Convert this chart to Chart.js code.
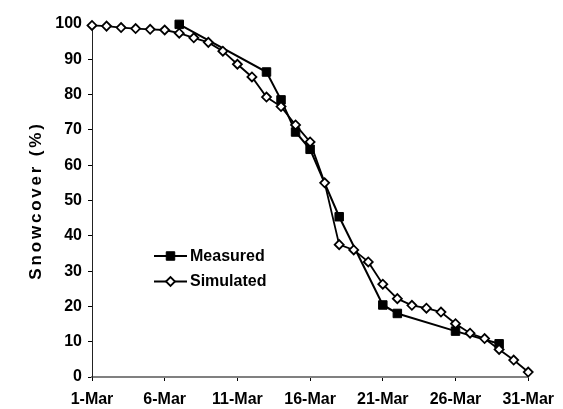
<!DOCTYPE html>
<html>
<head>
    <title>Snowcover</title>
    <style>
        html, body { margin: 0; padding: 0; background: #fff; }
        .chart-container { width: 563px; height: 409px; position: relative; }
    </style>
    <script src="https://cdn.jsdelivr.net/npm/chart.js"></script>
</head>
<body>
    <div class="chart-container">
        <canvas id="chart1"></canvas>
    </div>
    <script>
        // day of March
        const simDays = [1, 2, 3, 4, 5, 6, 7, 8, 9, 10, 11, 12, 13, 14, 15, 16, 17, 18, 19, 20,
                         21, 22, 23, 24, 25, 26, 27, 28, 29, 30, 31];
        const simValues = [99.6, 99.4, 99.0, 98.7, 98.5, 98.3, 97.4, 96.1, 94.8, 92.3, 88.6, 85.0,
                           79.3, 76.6, 71.4, 66.6, 55.0, 37.5, 36.0, 32.6, 26.3, 22.2, 20.3, 19.5,
                           18.4, 15.1, 12.4, 10.9, 7.8, 4.8, 1.4];
        const measDays = [7, 13, 14, 15, 16, 18, 21, 22, 26, 29];
        const measValues = [99.9, 86.4, 78.5, 69.4, 64.5, 45.4, 20.4, 18.0, 13.0, 9.4];
        const xTicks = [1, 6, 11, 16, 21, 26, 31];
        const yTitle = 'Snowcover (%)';
        const legendLabels = ['Measured', 'Simulated'];

        const FONT = 'Liberation Sans, Arial, sans-serif';

        function toPoints(xs, ys) {
            return xs.map((x, i) => ({ x: x, y: ys[i] }));
        }

        const simStyle = {
            borderColor: '#000',
            borderWidth: 1.8,
            pointStyle: 'rectRot',
            pointRadius: 4.5,
            pointBackgroundColor: '#fff',
            pointBorderColor: '#000',
            pointBorderWidth: 1.8
        };
        const measStyle = {
            borderColor: '#000',
            borderWidth: 2,
            pointStyle: 'rect',
            pointRadius: 6,
            pointBackgroundColor: '#000',
            pointBorderColor: '#000',
            pointBorderWidth: 1
        };

        // y title with wide spacing + legend inside the plot
        const extras = {
            id: 'extras',
            afterDraw(chart) {
                const ctx = chart.ctx;
                const area = chart.chartArea;
                ctx.save();
                ctx.fillStyle = '#000';
                ctx.font = 'bold 17px ' + FONT;
                ctx.letterSpacing = '2.8px';
                ctx.textAlign = 'center';
                ctx.textBaseline = 'middle';
                ctx.translate(36, (area.top + area.bottom) / 2);
                ctx.rotate(-Math.PI / 2);
                ctx.fillText(yTitle, 0, 0);
                ctx.restore();

                const styles = [measStyle, simStyle];
                const lx = area.left + 62;
                const ly = area.top + 232;
                ctx.save();
                styles.forEach((st, i) => {
                    const y = ly + i * 25.5;
                    ctx.strokeStyle = '#000';
                    ctx.lineWidth = 2;
                    ctx.beginPath();
                    ctx.moveTo(lx, y);
                    ctx.lineTo(lx + 33, y);
                    ctx.stroke();
                    ctx.fillStyle = st.pointBackgroundColor;
                    ctx.strokeStyle = st.pointBorderColor;
                    ctx.lineWidth = st.pointBorderWidth;
                    Chart.helpers.drawPoint(ctx, {
                        pointStyle: st.pointStyle,
                        radius: st.pointRadius,
                        rotation: 0,
                        borderWidth: st.pointBorderWidth
                    }, lx + 16.5, y);
                    ctx.fillStyle = '#000';
                    ctx.font = 'bold 16px ' + FONT;
                    ctx.textAlign = 'left';
                    ctx.textBaseline = 'middle';
                    ctx.fillText(legendLabels[i], lx + 36, y + 0.5);
                });
                ctx.restore();
            }
        };

        const ctx1 = document.getElementById('chart1').getContext('2d');
        const chart1 = new Chart(ctx1, {
            type: 'line',
            data: {
                datasets: [
                    Object.assign({ label: 'Simulated', data: toPoints(simDays, simValues), clip: false }, simStyle),
                    Object.assign({ label: 'Measured', data: toPoints(measDays, measValues), clip: false }, measStyle)
                ]
            },
            options: {
                responsive: true,
                maintainAspectRatio: false,
                animation: false,
                layout: { padding: { top: 24, right: 27, left: 0, bottom: 0 } },
                elements: { line: { tension: 0, fill: false } },
                plugins: {
                    legend: { display: false },
                    tooltip: { enabled: false }
                },
                scales: {
                    x: {
                        type: 'linear',
                        min: 1,
                        max: 31,
                        afterBuildTicks: (scale) => {
                            scale.ticks = xTicks.map(v => ({ value: v }));
                        },
                        afterFit: (scale) => { scale.height = 32; },
                        grid: {
                            drawOnChartArea: false,
                            drawTicks: true,
                            tickLength: 4,
                            color: '#000',
                            lineWidth: 1
                        },
                        border: { display: true, color: '#808080', width: 2 },
                        ticks: {
                            color: '#000',
                            padding: 9,
                            maxRotation: 0,
                            font: { family: FONT, size: 16, weight: 'bold' },
                            callback: (v) => v + '-Mar'
                        }
                    },
                    y: {
                        min: 0,
                        max: 100,
                        afterFit: (scale) => { scale.width = 92; },
                        grid: {
                            drawOnChartArea: false,
                            drawTicks: true,
                            tickLength: 4,
                            color: '#000',
                            lineWidth: 1
                        },
                        border: { display: true, color: '#222', width: 1 },
                        ticks: {
                            stepSize: 10,
                            color: '#000',
                            padding: 6,
                            font: { family: FONT, size: 16, weight: 'bold' }
                        }
                    }
                }
            },
            plugins: [extras]
        });
    </script>
</body>
</html>
